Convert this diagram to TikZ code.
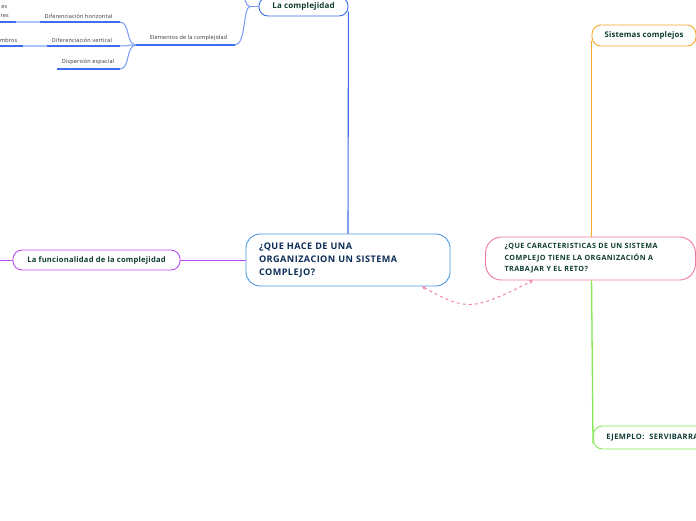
\documentclass[tikz,border=0pt]{standalone}
\usepackage{fontspec}
\setmainfont{Open Sans}
\usetikzlibrary{arrows.meta}
\definecolor{txtg}{HTML}{0F3D33}
\definecolor{txtn}{HTML}{0C2D57}
\definecolor{mainb}{HTML}{4A9AE0}
\definecolor{blueb}{HTML}{3D6EF0}
\definecolor{bluel}{HTML}{A9C4F8}
\definecolor{purp}{HTML}{B84EF0}
\definecolor{orng}{HTML}{F7A830}
\definecolor{grn}{HTML}{84E855}
\definecolor{pnk}{HTML}{F07AA0}
\definecolor{smalltxt}{HTML}{333333}
\newcommand{\lsp}[1]{\addfontfeatures{LetterSpace=#1}}
\tikzset{
  x=1pt,y=-1pt,
  topic/.style={draw,line width=0.9pt,rounded corners=9pt,fill=white,text=txtg,font=\bfseries\fontsize{8}{9}\selectfont\lsp{2},inner sep=0pt},
  sub/.style={font=\fontsize{5.5}{6.5}\selectfont\lsp{3},text=smalltxt,inner sep=0pt},
  uline/.style={blueb,line width=1.1pt},
}
\begin{document}
\begin{tikzpicture}
\useasboundingbox[fill=white] (0,0) rectangle (696,520);

% main node
\node[topic,draw=mainb,text=txtn,rounded corners=14pt,minimum width=204pt,minimum height=52pt,text width=178pt,align=left,font=\bfseries\fontsize{9.1}{13}\selectfont\lsp{5}] (main) at (348,260) {¿QUE HACE DE UNA\\ORGANIZACION UN SISTEMA\\COMPLEJO?};

% La complejidad
\node[topic,draw=blueb,minimum width=89pt,minimum height=19pt] (lc) at (303.5,6.5) {La complejidad};
\draw[blueb,line width=1.1pt] ([yshift=-5pt]lc.east) -- (main.north);

% Elementos branch
\coordinate (fork) at (259,6.5);
\coordinate (elR) at (235,45);
\coordinate (elL) at (136,45);
\draw[blueb!70,line width=1pt] (fork) -- (250,6.5);
\draw[blueb!70,line width=1pt] (250,6.5) .. controls (243,6.5) and (246,45) .. (elR);
\draw[blueb!70,line width=1pt] (250,6.5) .. controls (245,6.5) and (246,-3) .. (242,-6);
\draw[uline] (elL) -- (elR);
\node[sub,anchor=south] (el) at (188.5,41.5) {Elementos de la complejidad};

\coordinate (dhR) at (120,22);
\coordinate (dvR) at (120,46);
\coordinate (deR) at (120,69);
\draw[blueb!70,line width=1pt] (elL) .. controls (126,45) and (130,22) .. (dhR);
\draw[blueb!70,line width=1pt] (elL) .. controls (126,45) and (130,46) .. (dvR);
\draw[blueb!70,line width=1pt] (elL) .. controls (126,45) and (130,69) .. (deR);

\draw[uline] (40,22) -- (dhR);
\node[sub,anchor=south] (dh) at (78.5,18.5) {Diferenciación horizontal};
\draw[uline] (47,46) -- (dvR);
\node[sub,anchor=south] (dv) at (82,42.5) {Diferenciación vertical};
\draw[uline] (57,69) -- (deR);
\node[sub,anchor=south] (de) at (88,65.5) {Dispersión espacial};

% cut-off grandchildren
\draw[bluel,line width=1.1pt] (16,22) -- (40,22);
\draw[uline] (-5,22) -- (16,22);
\node[sub,anchor=east] (g1) at (7.5,7) {es};
\node[sub,anchor=east] (g2) at (9,16) {res};
\draw[bluel,line width=1.1pt] (23,46) -- (47,46);
\draw[uline] (-5,46) -- (23,46);
\node[sub,anchor=east] (g3) at (17.5,40) {mbros};

% La funcionalidad
\node[topic,draw=purp,minimum width=167pt,minimum height=20pt,font=\bfseries\fontsize{7.6}{9}\selectfont\lsp{3}] (lf) at (96.5,260) {La funcionalidad de la complejidad};
\draw[purp,line width=1pt] (lf.east) -- (main.west);
\draw[purp,line width=1pt] (lf.west) -- (-5,260);

% right side
\node[topic,draw=pnk,rounded corners=16pt,minimum width=210pt,minimum height=43pt,text width=172pt,align=left,font=\bfseries\fontsize{7.2}{11.5}\selectfont\lsp{6}] (pk) at (590.5,258.5) {¿QUE CARACTERISTICAS DE UN SISTEMA\\COMPLEJO TIENE LA ORGANIZACIÓN A\\TRABAJAR Y EL RETO?};

\node[topic,draw=orng,minimum width=104pt,minimum height=21pt,rounded corners=9pt,font=\bfseries\fontsize{7.8}{9}\selectfont\lsp{2}] (sc) at (644,35.5) {Sistemas complejos};
\draw[orng,line width=1.3pt] ([yshift=-5pt]sc.west) -- (sc.west |- pk.north);

\node[topic,draw=grn,anchor=west,minimum width=140pt,minimum height=23pt,text width=140pt,align=left,inner xsep=0pt,font=\bfseries\fontsize{7.5}{9}\selectfont\lsp{5}] (ej) at (593,437.5) {\hspace*{13pt}EJEMPLO:\ \ SERVIBARRA};
\draw[grn,line width=1.3pt] (sc.west |- pk.south) -- ([yshift=-6pt]ej.west);

% dashed relation
\coordinate (dA) at ([xshift=74pt]main.south);
\coordinate (dB) at ([xshift=-57.5pt]pk.south);
\coordinate (dM) at (470,304.5);
\draw[pnk,line width=0.9pt,dash pattern=on 3pt off 3pt,{Stealth[length=4pt,width=4pt]}-{Stealth[length=4pt,width=4pt]}]
  (dA) .. controls (448,301) and (458,304.5) .. (dM) .. controls (486,304.5) and (512,291) .. (dB);
\end{tikzpicture}
\end{document}
